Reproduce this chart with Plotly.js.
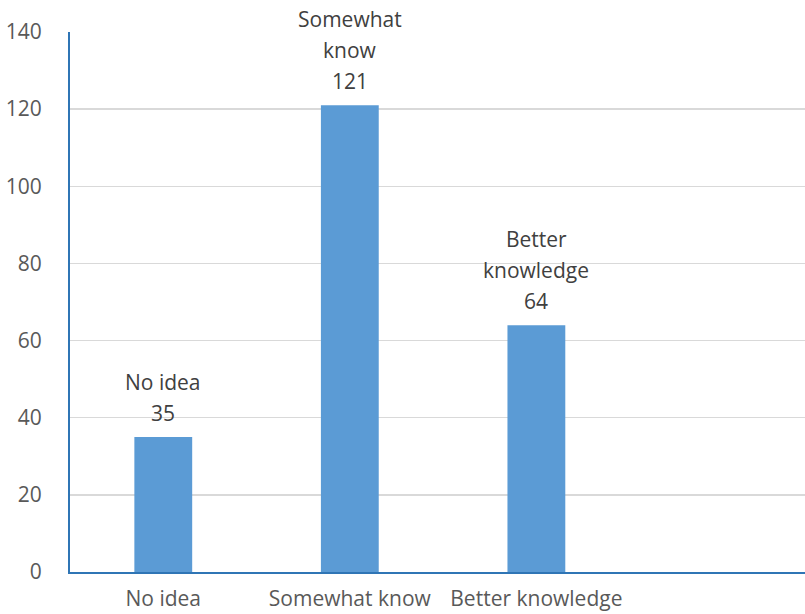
<!DOCTYPE html>
<html>
<head>
<meta charset="utf-8">
<script src="https://cdn.plot.ly/plotly-3.0.1.min.js"></script>
<style>html,body{margin:0;padding:0;background:#fff;}#chart{width:805px;height:614px;}</style>
</head>
<body>
<div id="chart"></div>
<script>
const categories = ["No idea", "Somewhat know", "Better knowledge"];
const values = [35, 121, 64];
const labelNames = [["No idea"], ["Somewhat", "know"], ["Better", "knowledge"]];
const yTicks = [0, 20, 40, 60, 80, 100, 120, 140];

const FONT = "Open Sans, sans-serif";

const trace = {
  type: "bar",
  x: categories,
  y: values,
  width: 0.31,
  marker: {color: "#5b9bd5"},
  hoverinfo: "x+y"
};

const annotations = [];
categories.forEach((c, i) => {
  const lines = labelNames[i].concat([String(values[i])]);
  const n = lines.length;
  lines.forEach((t, j) => {
    annotations.push({
      x: c,
      y: values[i],
      xref: "x",
      yref: "y",
      text: t,
      showarrow: false,
      yanchor: "middle",
      yshift: 24 + (n - 1 - j) * 31,
      font: {family: FONT, size: 21, color: "#404040"}
    });
  });
});

const layout = {
  width: 805,
  height: 614,
  margin: {l: 70, r: 0, t: 32, b: 42},
  paper_bgcolor: "#fff",
  plot_bgcolor: "#fff",
  showlegend: false,
  xaxis: {
    type: "category",
    range: [-0.5, 3.44],
    showgrid: false,
    showline: true,
    linecolor: "#2f75b5",
    linewidth: 2,
    ticks: "",
    ticklabelstandoff: 7,
    tickfont: {family: FONT, size: 21, color: "#595959"},
    zeroline: false
  },
  yaxis: {
    range: [0, 140],
    tickvals: yTicks,
    ticktext: yTicks.map(String),
    showgrid: true,
    gridcolor: "#d9d9d9",
    gridwidth: 1.5,
    showline: true,
    linecolor: "#2f75b5",
    linewidth: 2,
    zeroline: false,
    ticks: "",
    ticklabelstandoff: 22,
    tickfont: {family: FONT, size: 21, color: "#595959"}
  },
  annotations: annotations
};

Plotly.newPlot("chart", [trace], layout, {displayModeBar: false, staticPlot: true});
</script>
</body>
</html>
